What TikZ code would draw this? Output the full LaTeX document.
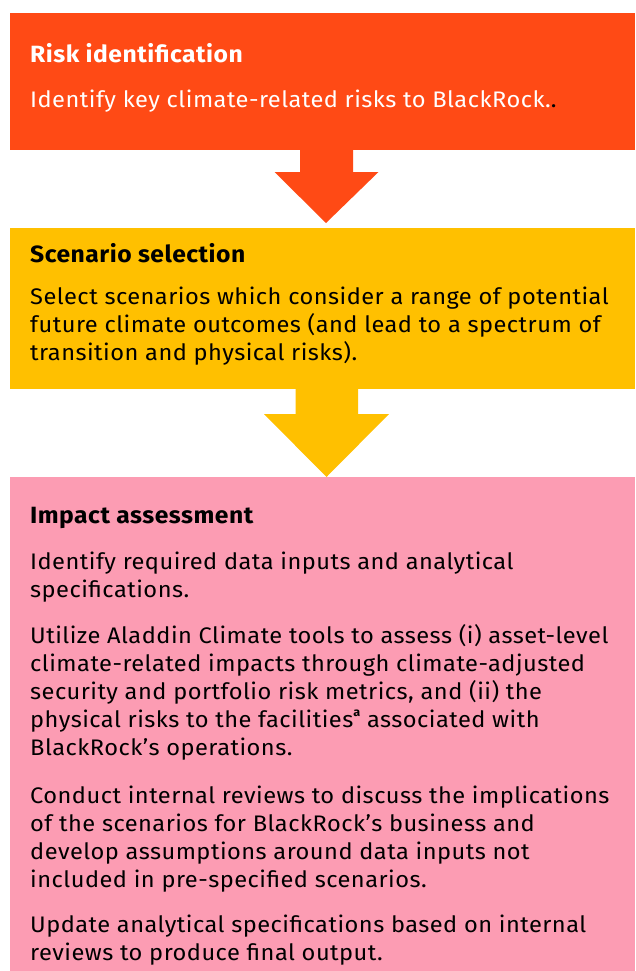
\documentclass[tikz,border=0pt]{standalone}
\usepackage{fontspec}
\setmainfont{Fira Sans}
\newfontfamily\stagefont[FakeStretch=1.05,LetterSpace=2.1]{Fira Sans}
\usetikzlibrary{calc}
\definecolor{riskred}{RGB}{255,74,21}
\definecolor{scenyellow}{RGB}{255,192,0}
\definecolor{impactpink}{RGB}{252,156,179}
\begin{document}
\begin{tikzpicture}[x=1pt,y=-1pt,
  panel/.style={anchor=north west,inner sep=0pt,outer sep=0pt,draw=none},
  headtext/.style={anchor=base west,inner sep=0pt,font=\stagefont\fontsize{23.5}{28}\selectfont\bfseries},
  bodytext/.style={anchor=base west,inner sep=0pt,align=left,font=\stagefont\fontsize{22.5}{28}\selectfont}]
\useasboundingbox (0,0) rectangle (635,971);
\fill[white] (0,0) rectangle (635,971);

% the three stages
\node[panel,fill=riskred,minimum width=625.5pt,minimum height=137pt] (risk) at (9.5,13) {};
\node[panel,fill=scenyellow,minimum width=625.5pt,minimum height=161pt] (scen) at (9.5,228) {};
\node[panel,fill=impactpink,minimum width=625.5pt,minimum height=494pt] (impact) at (9.5,477) {};

% block arrows between the stages
\fill[riskred]
  ($(risk.south west)+(290.5,0)$) -- ($(risk.south west)+(343.5,0)$)
  -- ($(risk.south west)+(343.5,22)$) -- ($(risk.south west)+(369,22)$)
  -- ($(risk.south west)+(316.5,73)$) -- ($(risk.south west)+(265,22)$)
  -- ($(risk.south west)+(290.5,22)$) -- cycle;
\fill[scenyellow]
  ($(scen.south west)+(286,0)$) -- ($(scen.south west)+(348.5,0)$)
  -- ($(scen.south west)+(348.5,25)$) -- ($(scen.south west)+(379.5,25)$)
  -- (impact.north west -| {$(scen.south west)+(317,0)$})
  -- ($(scen.south west)+(254.5,25)$) -- ($(scen.south west)+(286,25)$) -- cycle;

% texts (multi-line nodes sit on the baseline of their last line)
\node[headtext,text=white] (riskhead) at (30,63) {Risk identification};
\node[bodytext,text=white] (riskbody) at (30,107) {Identify key climate-related risks to BlackRock.\textcolor{black}{.}};

\node[headtext] (scenhead) at (30,262) {Scenario selection};
\node[bodytext] (scenbody) at (30,360) {Select scenarios which consider a range of potential\\future climate outcomes (and lead to a spectrum of\\transition and physical risks).};

\node[headtext] (impacthead) at (30,523) {Impact assessment};
\node[bodytext] (impactone) at (30,597) {Identify required data inputs and analytical\\specifications.};
\node[bodytext] (impacttwo) at (30,755) {Utilize Aladdin Climate tools to assess (i) asset-level\\climate-related impacts through climate-adjusted\\security and portfolio risk metrics, and (ii) the\\physical risks to the facilities\raisebox{0.45em}{\fontsize{12}{12}\selectfont\bfseries a} associated with\\BlackRock’s operations.};
\node[bodytext] (impactthree) at (30,887) {Conduct internal reviews to discuss the implications\\of the scenarios for BlackRock’s business and\\develop assumptions around data inputs not\\included in pre-specified scenarios.};
\node[bodytext] (impactfour) at (30,960.5) {Update analytical specifications based on internal\\reviews to produce final output.};
\end{tikzpicture}
\end{document}
